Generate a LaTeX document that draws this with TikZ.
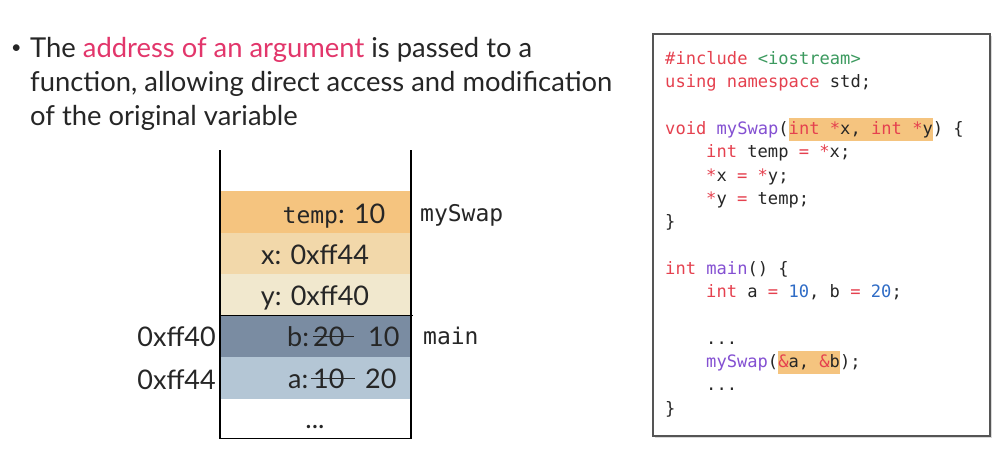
\documentclass[tikz,border=0pt]{standalone}
\usepackage{fontspec}
\setmainfont{Lato}
\setmonofont{DejaVu Sans Mono}
\usetikzlibrary{positioning, shadows}
\definecolor{accent}{HTML}{E2366B}
\definecolor{ink}{HTML}{262626}
\definecolor{kwred}{HTML}{E5414F}
\definecolor{strgreen}{HTML}{3C9A5F}
\definecolor{fnpurple}{HTML}{8450D2}
\definecolor{numblue}{HTML}{2F6CC6}
\definecolor{hlorange}{HTML}{F5C47F}
\definecolor{tempfill}{HTML}{F5C47F}
\definecolor{xfill}{HTML}{F2D8AA}
\definecolor{yfill}{HTML}{F1E8CE}
\definecolor{bfill}{HTML}{7A8CA2}
\definecolor{afill}{HTML}{B4C6D5}
\definecolor{framegray}{HTML}{555555}
\newcommand{\ckw}[1]{\textcolor{kwred}{#1}}
\newcommand{\cstr}[1]{\textcolor{strgreen}{#1}}
\newcommand{\cfn}[1]{\textcolor{fnpurple}{#1}}
\newcommand{\cnum}[1]{\textcolor{numblue}{#1}}
\newcommand{\hlbox}[1]{{\setlength{\fboxsep}{0pt}\colorbox{hlorange}{\strut#1}}}

\begin{document}
\begin{tikzpicture}[
    x=1pt, y=1pt,
    body/.style={anchor=base west, inner sep=0pt, text=ink, font=\fontsize{27.4}{34}\selectfont},
    code/.style={anchor=base west, inner sep=0pt, text=ink, font=\fontsize{17.1}{23.3}\ttfamily},
    codeframe/.style={rectangle, draw=framegray, line width=1.5pt, fill=white,
                      minimum width=337, minimum height=402,
                      drop shadow={shadow xshift=2pt, shadow yshift=-2pt, opacity=.3}},
    cell/.style={rectangle, minimum width=191, minimum height=41.5, inner sep=0pt, outer sep=0pt},
    lbl/.style={anchor=base, inner sep=0pt, text=ink, font=\fontsize{27}{30}\selectfont},
    frm/.style={anchor=base west, inner sep=0pt, text=ink, font=\fontsize{23}{27}\ttfamily},
    wall/.style={line width=1.6pt, black},
    strike/.style={line width=1.2pt, ink}
  ]
  \useasboundingbox (0,0) rectangle (1002,-448);

  % bullet text
  \node[body, font=\fontsize{18}{20}\selectfont] (dot) at (11,-53) {•};
  \node[body] (l1) at (30,-57) {The \textcolor{accent}{address of an argument} is passed to a};
  \node[body] (l2) at (30,-91) {function, allowing direct access and modification};
  \node[body] (l3) at (30,-125) {of the original variable};

  % stack frames
  \node[cell, fill=tempfill, anchor=north west] (ctemp) at (220,-191) {};
  \node[cell, fill=xfill, below=0pt of ctemp] (cx) {};
  \node[cell, fill=yfill, below=0pt of cx] (cy) {};
  \node[cell, fill=bfill, below=0pt of cy] (cb) {};
  \node[cell, fill=afill, below=0pt of cb] (ca) {};
  \draw[wall] (220,-150) -- (220,-438.5) -- (411,-438.5) -- (411,-150);
  \draw[line width=1.2pt] (cb.north west) -- ([xshift=2]cb.north east);

  \node[lbl] (ltemp) at (334,-223) {{\fontsize{23}{27}\ttfamily temp}: 10};
  \node[lbl] (lx) at (315,-264) {x: 0xff44};
  \node[lbl] (ly) at (315,-305) {y: 0xff40};
  \node[lbl, anchor=base west] (bkey) at (287,-346) {b:};
  \node[lbl, anchor=base west] (bold) at (313,-346) {20};
  \node[lbl, anchor=base west] (bnew) at (368,-346) {10};
  \draw[strike] ([yshift=9.7]bold.base west) -- ([xshift=9,yshift=9.7]bold.base east);
  \node[lbl, anchor=base west] (akey) at (288,-388) {a:};
  \node[lbl, anchor=base west] (aold) at (313,-388) {10};
  \node[lbl, anchor=base west] (anew) at (365,-388) {20};
  \draw[strike] ([xshift=-2,yshift=9.7]aold.base west) -- ([xshift=10,yshift=9.7]aold.base east);
  \node[lbl] (ldots) at (315,-428) {...};

  \node[frm] (fswap) at (420,-221) {mySwap};
  \node[frm] (fmain) at (423,-344) {main};
  \node[lbl, anchor=base east] (addrb) at (216,-346) {0xff40};
  \node[lbl, anchor=base east] (addra) at (216,-389) {0xff44};

  % source code
  \node[codeframe, anchor=north west] (codebox) at (652,-33) {};
  \node[code] (c1) at (665,-64.5) {\ckw{\#include} \cstr{<iostream>}};
  \node[code] (c2) at (665,-87.8) {\ckw{using namespace} std;};
  \node[code] (c4) at (665,-134.4) {\ckw{void} \cfn{mySwap}(\hlbox{\ckw{int} \ckw{*}x, \ckw{int} \ckw{*}y}) \{};
  \node[code] (c5) at (706,-157.7) {\ckw{int} temp \ckw{=} \ckw{*}x;};
  \node[code] (c6) at (706,-181.0) {\ckw{*}x \ckw{=} \ckw{*}y;};
  \node[code] (c7) at (706,-204.3) {\ckw{*}y \ckw{=} temp;};
  \node[code] (c8) at (665,-227.6) {\}};
  \node[code] (c10) at (665,-274.2) {\ckw{int} \cfn{main}() \{};
  \node[code] (c11) at (706,-297.5) {\ckw{int} a \ckw{=} \cnum{10}, b \ckw{=} \cnum{20};};
  \node[code] (c13) at (706,-344.1) {...};
  \node[code] (c14) at (706,-367.4) {\cfn{mySwap}(\hlbox{\ckw{\&}a, \ckw{\&}b});};
  \node[code] (c15) at (706,-390.7) {...};
  \node[code] (c16) at (665,-414.0) {\}};
\end{tikzpicture}
\end{document}
